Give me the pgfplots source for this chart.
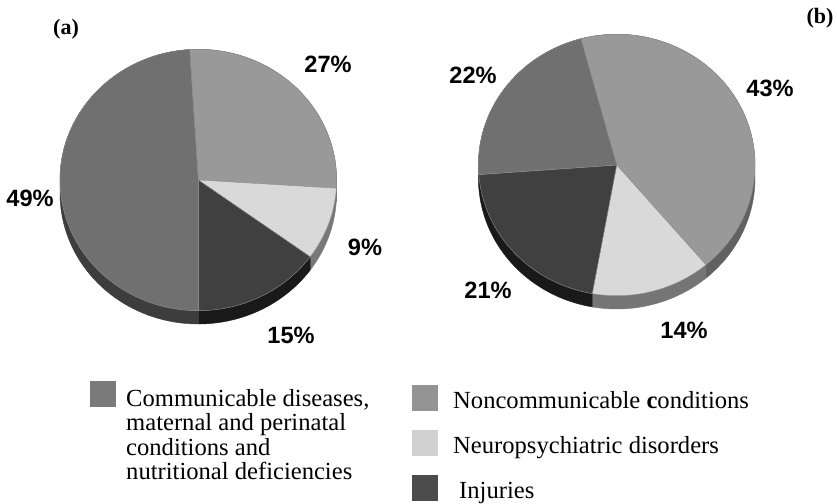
\documentclass[border=0pt]{standalone}
\usepackage{fontspec}
\setmainfont{Liberation Serif}
\newfontfamily\pctfont{Liberation Sans}
\usepackage{pgfplots}
\usepackage{pgfplotstable}
\pgfplotsset{compat=1.18}

% One row per slice: pie centre, start angle, share in percent, grey of face and rim
\pgfplotstableread{
cx    cy   start  value  top   rim
198.3 322  93.6   27     0.60  0.40
198.3 322  -3.6   9      0.85  0.47
198.3 322  -36    15     0.25  0.10
198.3 322  -90    49     0.44  0.24
}\pieA
\pgfplotstableread{
cx    cy   start  value  top   rim
616.7 337  105    43     0.60  0.38
616.7 337  -49.8  14     0.85  0.46
616.7 337  -100.2 21     0.25  0.10
616.7 337  -175.8 22     0.44  0.24
}\pieB

\def\rx{138.3pt}
\def\ry{130.7pt}
\def\rimdepth{13.3pt}

\pgfplotsset{
  wedges/.style={
    scatter, only marks, mark=*, mark size=0pt, point meta=y,
    visualization depends on={\thisrow{start} \as \wstart},
    visualization depends on={3.6*\thisrow{value} \as \wsweep},
    visualization depends on={\thisrow{top} \as \wtop},
    visualization depends on={\thisrow{rim} \as \wrim},
    scatter/@post marker code/.code={},
  },
  % side wall of the disc, below the face
  wedge rim/.style={wedges,
    scatter/@pre marker code/.code={%
      \definecolor{wedgerim}{gray}{\wrim}%
      \pgfmathsetmacro\wend{\wstart-\wsweep}%
      \fill[wedgerim] (\wstart:138.3pt and 130.7pt) arc[start angle=\wstart, delta angle=-\wsweep, x radius=\rx, y radius=\ry]
        -- ++(0,-\rimdepth) arc[start angle=\wend, delta angle=\wsweep, x radius=\rx, y radius=\ry] -- cycle;
    },
  },
  % top face of the disc
  wedge top/.style={wedges,
    scatter/@pre marker code/.code={%
      \definecolor{wedgetop}{gray}{\wtop}%
      \filldraw[fill=wedgetop, draw=black!45, line width=0.4pt] (0,0) -- (\wstart:138.3pt and 130.7pt)
        arc[start angle=\wstart, delta angle=-\wsweep, x radius=\rx, y radius=\ry] -- cycle;
    },
  },
  swatch/.style={only marks, mark=square*, mark size=12.5pt, mark options={draw=#1, fill=#1}},
}

\newcommand{\pct}[3]{\node[font=\pctfont\bfseries\fontsize{23.6}{26}\selectfont, anchor=center] at (axis cs:#1,#2) {#3\%};}
\newcommand{\legline}[3]{\node[font=\fontsize{24.6}{26}\selectfont, anchor=base west, inner sep=0pt] at (axis cs:#1,#2) {#3};}

\begin{document}
\begin{tikzpicture}
\begin{axis}[
  name=plot,
  scale only axis, width=837pt, height=502pt,
  xmin=0, xmax=837, ymin=0, ymax=502,
  hide axis, clip=false,
]
\addplot[wedge rim] table[x=cx, y=cy] {\pieA};
\addplot[wedge top] table[x=cx, y=cy] {\pieA};
\addplot[wedge rim] table[x=cx, y=cy] {\pieB};
\addplot[wedge top] table[x=cx, y=cy] {\pieB};

% legend swatches
\addplot[swatch=black!52] coordinates {(102.5,108)};
\addplot[swatch=black!42] coordinates {(424.5,104.5)};
\addplot[swatch=black!18] coordinates {(424.5,59.5)};
\addplot[swatch=black!70] coordinates {(424.5,14.5)};

% panel letters
\node[font=\bfseries\fontsize{22}{24}\selectfont] at (axis cs:66,472.5) {(a)};
\node[font=\bfseries\fontsize{22}{24}\selectfont] at (axis cs:820,483.5) {(b)};

% percentages
\pct{328}{438}{27}
\pct{365}{255}{9}
\pct{291}{167}{15}
\pct{30}{304}{49}
\pct{770}{414}{43}
\pct{684}{172}{14}
\pct{488}{212}{21}
\pct{473}{427}{22}

% legend text
\legline{126}{96}{Communicable diseases,}
\legline{126}{72}{maternal and perinatal}
\legline{126}{47}{conditions and}
\legline{126}{23}{nutritional deficiencies}
\legline{453}{94}{Noncommunicable \textbf{c}onditions}
\legline{453}{49}{Neuropsychiatric disorders}
\legline{459}{4}{Injuries}
\end{axis}
\useasboundingbox (plot.south west) rectangle (plot.north east);
\end{tikzpicture}
\end{document}
